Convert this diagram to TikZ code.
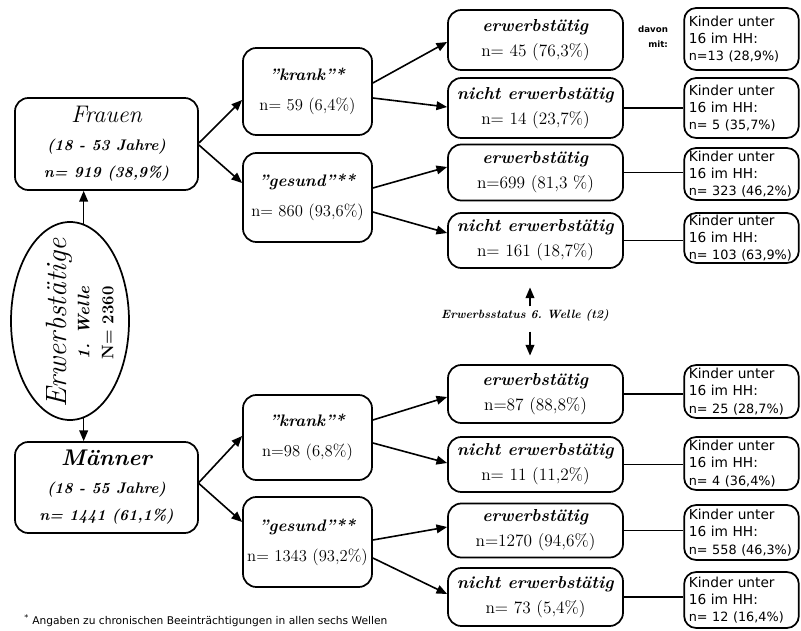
\documentclass[tikz,border=0pt]{standalone}
\usepackage{fontspec}
\newfontfamily\dvs{DejaVu Sans}
\usetikzlibrary{arrows.meta,shapes.geometric,calc}
\newcommand\nline[1]{{\fontsize{9.6}{13}\selectfont #1}}
\begin{document}
\begin{tikzpicture}[x=0.75pt,y=-0.75pt,
  box/.style={draw,line width=1.3pt,rounded corners=10pt,inner sep=0pt,align=center},
  kbox/.style={draw,line width=1.3pt,rounded corners=9pt,inner xsep=3.5pt,inner ysep=0pt,align=left,text width=79pt,minimum width=113*0.75pt,font=\dvs\fontsize{10.3}{13}\selectfont},
  arr/.style={line width=1.2pt,-{Triangle[length=8pt,width=6.5pt]}},
  lin/.style={line width=1.3pt},
  bigbox/.style={box,minimum width=183*0.75pt,font=\fontsize{11.5}{20.6}\selectfont},
  midbox/.style={box,minimum width=129*0.75pt,font=\fontsize{12.5}{22.5}\selectfont},
  stbox/.style={box,minimum width=175*0.75pt,font=\fontsize{13}{18.75}\selectfont}
]
\useasboundingbox (0,0) rectangle (801,631);

% left column
\node[bigbox,minimum height=92*0.75pt] (fr) at (106.5,144)
  {{\fontsize{18}{20}\selectfont\itshape\addfontfeature{LetterSpace=7}Frauen}\\
   \textbf{\textit{(18 - 53 Jahre)}}\\
   \textbf{\textit{n= 919 (38,9\%)}}};
\node[bigbox,minimum height=91*0.75pt] (ma) at (106.5,487.5)
  {{\fontsize{17}{20}\selectfont\bfseries\itshape\addfontfeature{LetterSpace=6}Männer}\\
   \textbf{\textit{(18 - 55 Jahre)}}\\
   \textbf{\textit{n= 1441 (61,1\%)}}};
\node[ellipse,draw,line width=1.3pt,minimum width=118*0.75pt,minimum height=198*0.75pt,inner sep=0pt] (ell) at (70,321) {};
\node[rotate=90,align=center,font=\fontsize{12.5}{18}\selectfont] (et) at (80,323)
  {{\fontsize{22}{20}\selectfont\itshape\addfontfeature{LetterSpace=8}Erwerbstätige}\\[-1pt]
   \textbf{\textit{1. Welle}}\\
   \textbf{N= 2360}};

% second column
\node[midbox,minimum height=87*0.75pt] (krF) at (307.5,91.5)
  {\textbf{\textit{"krank"*}}\\n= 59 (6,4\%)};
\node[midbox,minimum height=89*0.75pt] (geF) at (307.5,197.5)
  {\textbf{\textit{"gesund"**}}\\n= 860 (93,6\%)};
\node[midbox,minimum height=85*0.75pt] (krM) at (307.5,437.5)
  {\textbf{\textit{"krank"*}}\\n=98 (6,8\%)};
\node[midbox,minimum height=90*0.75pt] (geM) at (307.5,542)
  {\textbf{\textit{"gesund"**}}\\n= 1343 (93,2\%)};

% third column
\node[stbox,minimum height=60*0.75pt] (b1) at (535.5,40) {\textbf{\textit{erwerbstätig}}\\n= 45 (76,3\%)};
\node[stbox,minimum height=60*0.75pt] (b2) at (535.5,108) {\textbf{\textit{nicht erwerbstätig}}\\n= 14 (23,7\%)};
\node[stbox,minimum height=56*0.75pt] (b3) at (535.5,172.5) {\textbf{\textit{erwerbstätig}}\\n=699 (81,3 \%)};
\node[stbox,minimum height=55*0.75pt] (b4) at (535.5,240.5) {\textbf{\textit{nicht erwerbstätig}}\\n= 161 (18,7\%)};
\node[stbox,minimum height=58*0.75pt] (b5) at (535.5,394) {\textbf{\textit{erwerbstätig}}\\n=87 (88,8\%)};
\node[stbox,minimum height=55*0.75pt] (b6) at (535.5,464.5) {\textbf{\textit{nicht erwerbstätig}}\\n= 11 (11,2\%)};
\node[stbox,minimum height=54*0.75pt] (b7) at (535.5,530.5) {\textbf{\textit{erwerbstätig}}\\n=1270 (94,6\%)};
\node[stbox,minimum height=58*0.75pt] (b8) at (535.5,597) {\textbf{\textit{nicht erwerbstätig}}\\n= 73 (5,4\%)};

% fourth column
\node[kbox,minimum height=62*0.75pt] (k1) at (741.5,39) {Kinder unter\\16 im HH:\\\nline{n=13 (28,9\%)}};
\node[kbox,minimum height=60*0.75pt] (k2) at (741.5,108) {Kinder unter\\16 im HH:\\\nline{n= 5 (35,7\%)}};
\node[kbox,minimum height=52*0.75pt] (k3) at (741.5,174) {Kinder unter\\16 im HH:\\\nline{n= 323 (46,2\%)}};
\node[kbox,minimum height=50*0.75pt] (k4) at (741.5,238) {Kinder unter\\16 im HH:\\\nline{n= 103 (63,9\%)}};
\node[kbox,minimum height=53*0.75pt] (k5) at (741.5,391.5) {Kinder unter\\16 im HH:\\\nline{n= 25 (28,7\%)}};
\node[kbox,minimum height=53*0.75pt] (k6) at (741.5,463.5) {Kinder unter\\16 im HH:\\\nline{n= 4 (36,4\%)}};
\node[kbox,minimum height=55*0.75pt] (k7) at (741.5,532.5) {Kinder unter\\16 im HH:\\\nline{n= 558 (46,3\%)}};
\node[kbox,minimum height=56*0.75pt] (k8) at (741.5,600) {Kinder unter\\16 im HH:\\\nline{n= 12 (16,4\%)}};

\node[align=right,font=\dvs\bfseries\fontsize{6.5}{11}\selectfont,inner sep=0pt] (dv) at (653,37) {davon\\mit:};

\node[font=\bfseries\itshape\fontsize{9}{11}\selectfont,inner sep=1pt] (es) at (525,315) {Erwerbsstatus 6.~Welle (t2)};

\node[anchor=west,font=\dvs\fontsize{8}{9}\selectfont,inner sep=0pt] (fn) at (24,621)
  {\textsuperscript{*} Angaben zu chronischen Beeinträchtigungen in allen sechs Wellen};

% arrows
\draw[arr] (ell.82) -- (ell.82 |- fr.south);
\draw[arr] (ell.-82) -- (ell.-82 |- ma.north);

\draw[arr] ($(fr.east)+(0,-1)$) -- ($(krF.west)+(0,8.5)$);
\draw[arr] ($(fr.east)+(0,1)$) -- ($(geF.west)+(0,-14.5)$);
\draw[arr] ($(ma.east)+(0,-5)$) -- ($(krM.west)+(0,-1.5)$);
\draw[arr] ($(ma.east)+(0,-4)$) -- ($(geM.west)+(0,-20)$);

\draw[arr] ($(krF.east)+(0,-8.5)$) -- ($(b1.west)+(0,2)$);
\draw[arr] ($(krF.east)+(0,6.5)$) -- ($(b2.west)+(0,-1)$);
\draw[arr] ($(geF.east)+(0,-9.5)$) -- ($(b3.west)+(0,-5.5)$);
\draw[arr] ($(geF.east)+(0,14.5)$) -- ($(b4.west)+(0,-7.5)$);
\draw[arr] ($(krM.east)+(0,-17.5)$) -- ($(b5.west)+(0,3)$);
\draw[arr] ($(krM.east)+(0,5.5)$) -- ($(b6.west)+(0,-1.5)$);
\draw[arr] ($(geM.east)+(0,-2)$) -- ($(b7.west)+(0,-3.5)$);
\draw[arr] ($(geM.east)+(0,16)$) -- ($(b8.west)+(0,-3)$);

\draw[arr] ($(es.north)+(5,-1)$) -- ($(es.north)+(5,-20)$);
\draw[arr] ($(es.south)+(5,9)$) -- ($(es.south)+(5,33)$);

% plain links
\draw[lin] ($(b1.east)+(0,7)$) -- ($(b1.east)+(0,7)$ -| k1.west);
\draw[lin] (b2.east) -- (b2.east -| k2.west);
\draw[lin] (b3.east) -- (b3.east -| k3.west);
\draw[lin] (b4.east) -- (b4.east -| k4.west);
\draw[lin] (b5.east) -- (b5.east -| k5.west);
\draw[lin] (b6.east) -- (b6.east -| k6.west);
\draw[lin] (b7.east) -- (b7.east -| k7.west);
\draw[lin] (b8.east) -- (b8.east -| k8.west);
\end{tikzpicture}
\end{document}
